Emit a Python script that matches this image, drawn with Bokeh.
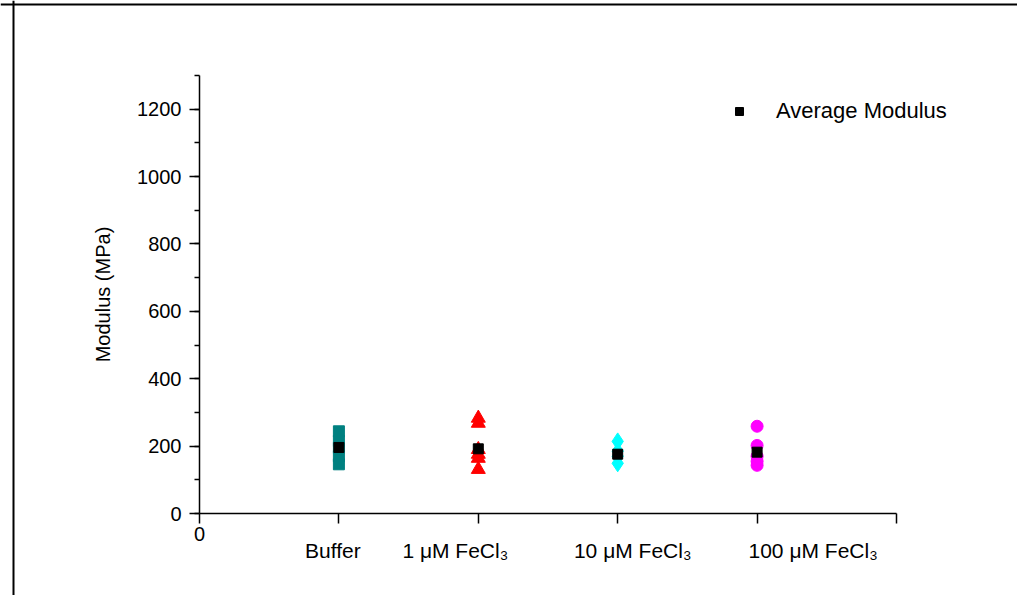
from bokeh.plotting import figure
from bokeh.models import (Range1d, FixedTicker, SingleIntervalTicker, Label,
                          Legend, LegendItem, Span)
from bokeh.embed import file_html
from bokeh.resources import INLINE

# ---- data ----
categories = ["Buffer", "1 μM FeCl₃", "10 μM FeCl₃", "100 μM FeCl₃"]
buffer_vals = [244, 215, 195, 170, 146]
fe1_vals = [283, 268, 190, 176, 164, 131]
fe10_vals = [214, 185, 170, 149]
fe100_vals = [259, 202, 170, 155, 143]
avg_vals = [196, 192, 176, 182]
x_ticks = [0, 1, 2, 3, 4, 5]
y_max = 1300

FONT = "Liberation Sans"
W, H = 1017, 595
OX, OY = 1, 1  # where the canvas lands in the photographed image
# axis origin at (200, 514); x=5 at 897; y=1300 at 76 (image px)
XS = (897 - 200) / 5.0
YS = (514 - 76) / float(y_max)
x0 = -(200 - OX) / XS
x1 = 5 + (OX + W - 897) / XS
y1 = y_max + (76 - OY) / YS
y0 = -(OY + H - 514) / YS

p = figure(width=W, height=H, output_backend="svg", toolbar_location=None,
           x_range=Range1d(x0, x1), y_range=Range1d(y0, y1),
           min_border=0)
p.grid.visible = False
p.outline_line_color = None

# page frame lines (left and top)
p.add_layout(Span(location=x0 + (14 - OX) / XS, dimension="height", line_color="black", line_width=2))
p.add_layout(Span(location=y1 - (5 - OY) / YS, dimension="width", line_color="black", line_width=2))

def xs(i, n):
    return [i] * n

p.scatter(xs(1, len(buffer_vals)), buffer_vals, marker="square", size=11,
          fill_color="#008080", line_color="#008080")
p.scatter(xs(2, len(fe1_vals)), fe1_vals, marker="triangle", size=14,
          fill_color="#FF0000", line_color="#FF0000")
p.scatter(xs(3, len(fe10_vals)), fe10_vals, marker="diamond", size=17,
          fill_color="#00FFFF", line_color="#00FFFF")
p.scatter(xs(4, len(fe100_vals)), fe100_vals, marker="circle", size=12,
          fill_color="#FF00FF", line_color="#FF00FF")
r_avg = p.scatter([1, 2, 3, 4], avg_vals, marker="square", size=10,
                  fill_color="black", line_color="black")

# axes
xa = p.xaxis[0]
xa.fixed_location = 0
xa.bounds = (0, 5)
xa.ticker = FixedTicker(ticks=x_ticks)
xa.major_label_overrides = {0: "0", 1: "", 2: "", 3: "", 4: "", 5: ""}
ya = p.yaxis[0]
ya.fixed_location = 0
ya.bounds = (0, y_max)
ya.ticker = SingleIntervalTicker(interval=200, num_minor_ticks=2)
ya.axis_label = "Modulus (MPa)"
ya.axis_label_text_font = FONT
ya.axis_label_text_font_size = "20px"
ya.axis_label_text_font_style = "normal"
ya.axis_label_text_color = "black"
ya.axis_label_standoff = 20
for ax in (xa, ya):
    ax.axis_line_color = "black"
    ax.axis_line_width = 1.5
    ax.major_tick_line_color = "black"
    ax.major_tick_line_width = 1.5
    ax.minor_tick_line_color = "black"
    ax.minor_tick_line_width = 1.5
    ax.major_tick_in = 0
    ax.major_tick_out = 10
    ax.minor_tick_in = 0
    ax.minor_tick_out = 5
    ax.major_label_text_font = FONT
    ax.major_label_text_font_size = "20px"
    ax.major_label_text_color = "black"
xa.minor_tick_line_color = None
xa.major_label_standoff = 3
ya.major_label_standoff = 8

# category labels under the x axis
offsets = [-6, -23, 15, 56]
for i, (cat, off) in enumerate(zip(categories, offsets)):
    p.add_layout(Label(x=i + 1, y=-110, x_offset=off, text=cat,
                       text_font=FONT, text_font_size="21px",
                       text_align="center", text_baseline="middle",
                       text_color="black"))

legend = Legend(items=[LegendItem(label="Average Modulus", renderers=[r_avg])],
                location=(730 - OX, OY + H - 125), border_line_color=None,
                background_fill_alpha=0, padding=0, margin=0,
                glyph_width=20, glyph_height=20, label_standoff=27,
                label_text_font=FONT, label_text_font_size="22px",
                label_text_color="black")
p.add_layout(legend)

open("out.html", "w").write(file_html(p, INLINE))
